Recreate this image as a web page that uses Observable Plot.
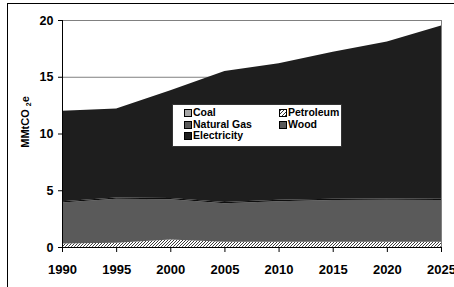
<!DOCTYPE html>
<html>
<head>
<meta charset="utf-8">
<script src="https://cdn.jsdelivr.net/npm/d3@7"></script>
<script src="https://cdn.jsdelivr.net/npm/@observablehq/plot@0.6"></script>
<style>
  html, body { margin: 0; padding: 0; background: #fff; overflow: hidden; }
  #wrap { position: relative; width: 454px; height: 287px; overflow: hidden; font-family: "Liberation Sans", Arial, sans-serif; }
  #frame { position: absolute; left: 7px; top: 3px; width: 470px; height: 300px; border: 1px solid #000; box-sizing: border-box; }
  #chart { position: absolute; left: 0; top: 0; }
  #legend { position: absolute; left: 172px; top: 104px; width: 170px; height: 43px; background: #fff; border: 1px solid #333; box-sizing: border-box; font-weight: bold; font-size: 10.5px; color: #000; }
  .item { position: absolute; display: flex; align-items: center; white-space: nowrap; line-height: 11px; }
  .sw { width: 6px; height: 6px; border: 1px solid #000; margin-right: 1px; box-sizing: content-box; }
</style>
</head>
<body>
<div id="wrap">
  <div id="frame"></div>
  <div id="chart"></div>
  <div id="legend"></div>
</div>
<script>
const years = [1990, 1995, 2000, 2005, 2010, 2015, 2020, 2025];
const sources = ["Coal", "Petroleum", "Natural Gas", "Wood", "Electricity"];
const coal        = [0.03, 0.03, 0.03, 0.03, 0.03, 0.03, 0.03, 0.03];
const petroleum   = [0.28, 0.34, 0.62, 0.44, 0.44, 0.44, 0.44, 0.44];
const naturalGas  = [3.60, 3.88, 3.55, 3.38, 3.57, 3.66, 3.69, 3.66];
const wood        = [0.12, 0.12, 0.12, 0.12, 0.12, 0.12, 0.12, 0.12];
const electricity = [7.97, 7.83, 9.48, 11.53, 12.04, 12.95, 13.82, 15.27];
const yTicks = [0, 5, 10, 15, 20];
const xTicks = [1990, 1995, 2000, 2005, 2010, 2015, 2020, 2025];
const colors = ["#a6a6a6", "url(#hatch)", "#5a5a5a", "#0e0e0e", "#1e1e1e"];
const legendSwatch = ["#a6a6a6", "url(#hatch)", "#5a5a5a", "#5a5a5a", "#1e1e1e"];

const series = [coal, petroleum, naturalGas, wood, electricity];
const data = [];
sources.forEach((s, i) => years.forEach((y, j) => data.push({year: y, source: s, value: series[i][j]})));

const font = '"Liberation Sans", Arial, sans-serif';
const chart = Plot.plot({
  width: 454,
  height: 287,
  marginLeft: 62,
  marginRight: 13,
  marginTop: 20,
  marginBottom: 40,
  style: {fontFamily: font, background: "transparent", overflow: "visible"},
  x: {domain: [1990, 2025], axis: null},
  y: {domain: [0, 20], axis: null},
  color: {domain: sources, range: colors},
  marks: [
    Plot.ruleY(yTicks.filter(d => d > 0), {stroke: "#808080", strokeWidth: 1}),
    Plot.ruleX([2025], {y1: 0, y2: 20, stroke: "#808080"}),
    Plot.areaY(data, {x: "year", y: "value", fill: "source", z: "source", curve: "linear"}),
    Plot.ruleX([1990], {y1: 0, y2: 20, stroke: "#000"}),
    Plot.ruleY([0], {stroke: "#000"}),
    Plot.axisY({ticks: yTicks, tickSize: 4, tickPadding: 5, tickFormat: "d", fontSize: 12.5, fontWeight: "bold", label: null, stroke: "#000"}),
    Plot.axisX({ticks: xTicks, tickSize: 5, tickPadding: 12, tickFormat: "d", fontSize: 13, fontWeight: "bold", label: null}),
  ]
});

const svgNS = "http://www.w3.org/2000/svg";
function addHatch(svg, id) {
  const defs = document.createElementNS(svgNS, "defs");
  defs.innerHTML = `<pattern id="${id}" patternUnits="userSpaceOnUse" width="3" height="3">
    <rect width="3" height="3" fill="#ffffff"/>
    <path d="M-1,1 L1,-1 M0,3 L3,0 M2,4 L4,2" stroke="#3a3a3a" stroke-width="1"/>
  </pattern>`;
  svg.insertBefore(defs, svg.firstChild);
}
addHatch(chart, "hatch");

// y-axis title
const t = document.createElementNS(svgNS, "text");
t.setAttribute("transform", "translate(29,122) rotate(-90)");
t.setAttribute("text-anchor", "middle");
t.setAttribute("font-family", font);
t.setAttribute("font-size", "11");
t.setAttribute("font-weight", "bold");
t.innerHTML = 'MMtCO <tspan font-size="7" dy="2">2</tspan><tspan dy="-2">e</tspan>';
chart.appendChild(t);

document.getElementById("chart").appendChild(chart);

// legend
const legend = document.getElementById("legend");
const pos = [[11, 2], [106, 2], [11, 14], [106, 14], [11, 25]];
sources.forEach((s, i) => {
  const it = document.createElement("div");
  it.className = "item";
  it.style.left = pos[i][0] + "px";
  it.style.top = pos[i][1] + "px";
  const sw = document.createElement("div");
  sw.className = "sw";
  if (legendSwatch[i].startsWith("url")) {
    sw.style.background = "repeating-linear-gradient(-45deg, #3a3a3a 0 1px, #fff 1px 2.5px)";
  } else {
    sw.style.background = legendSwatch[i];
  }
  const lab = document.createElement("span");
  lab.textContent = s;
  it.appendChild(sw);
  it.appendChild(lab);
  legend.appendChild(it);
});
</script>
</body>
</html>
